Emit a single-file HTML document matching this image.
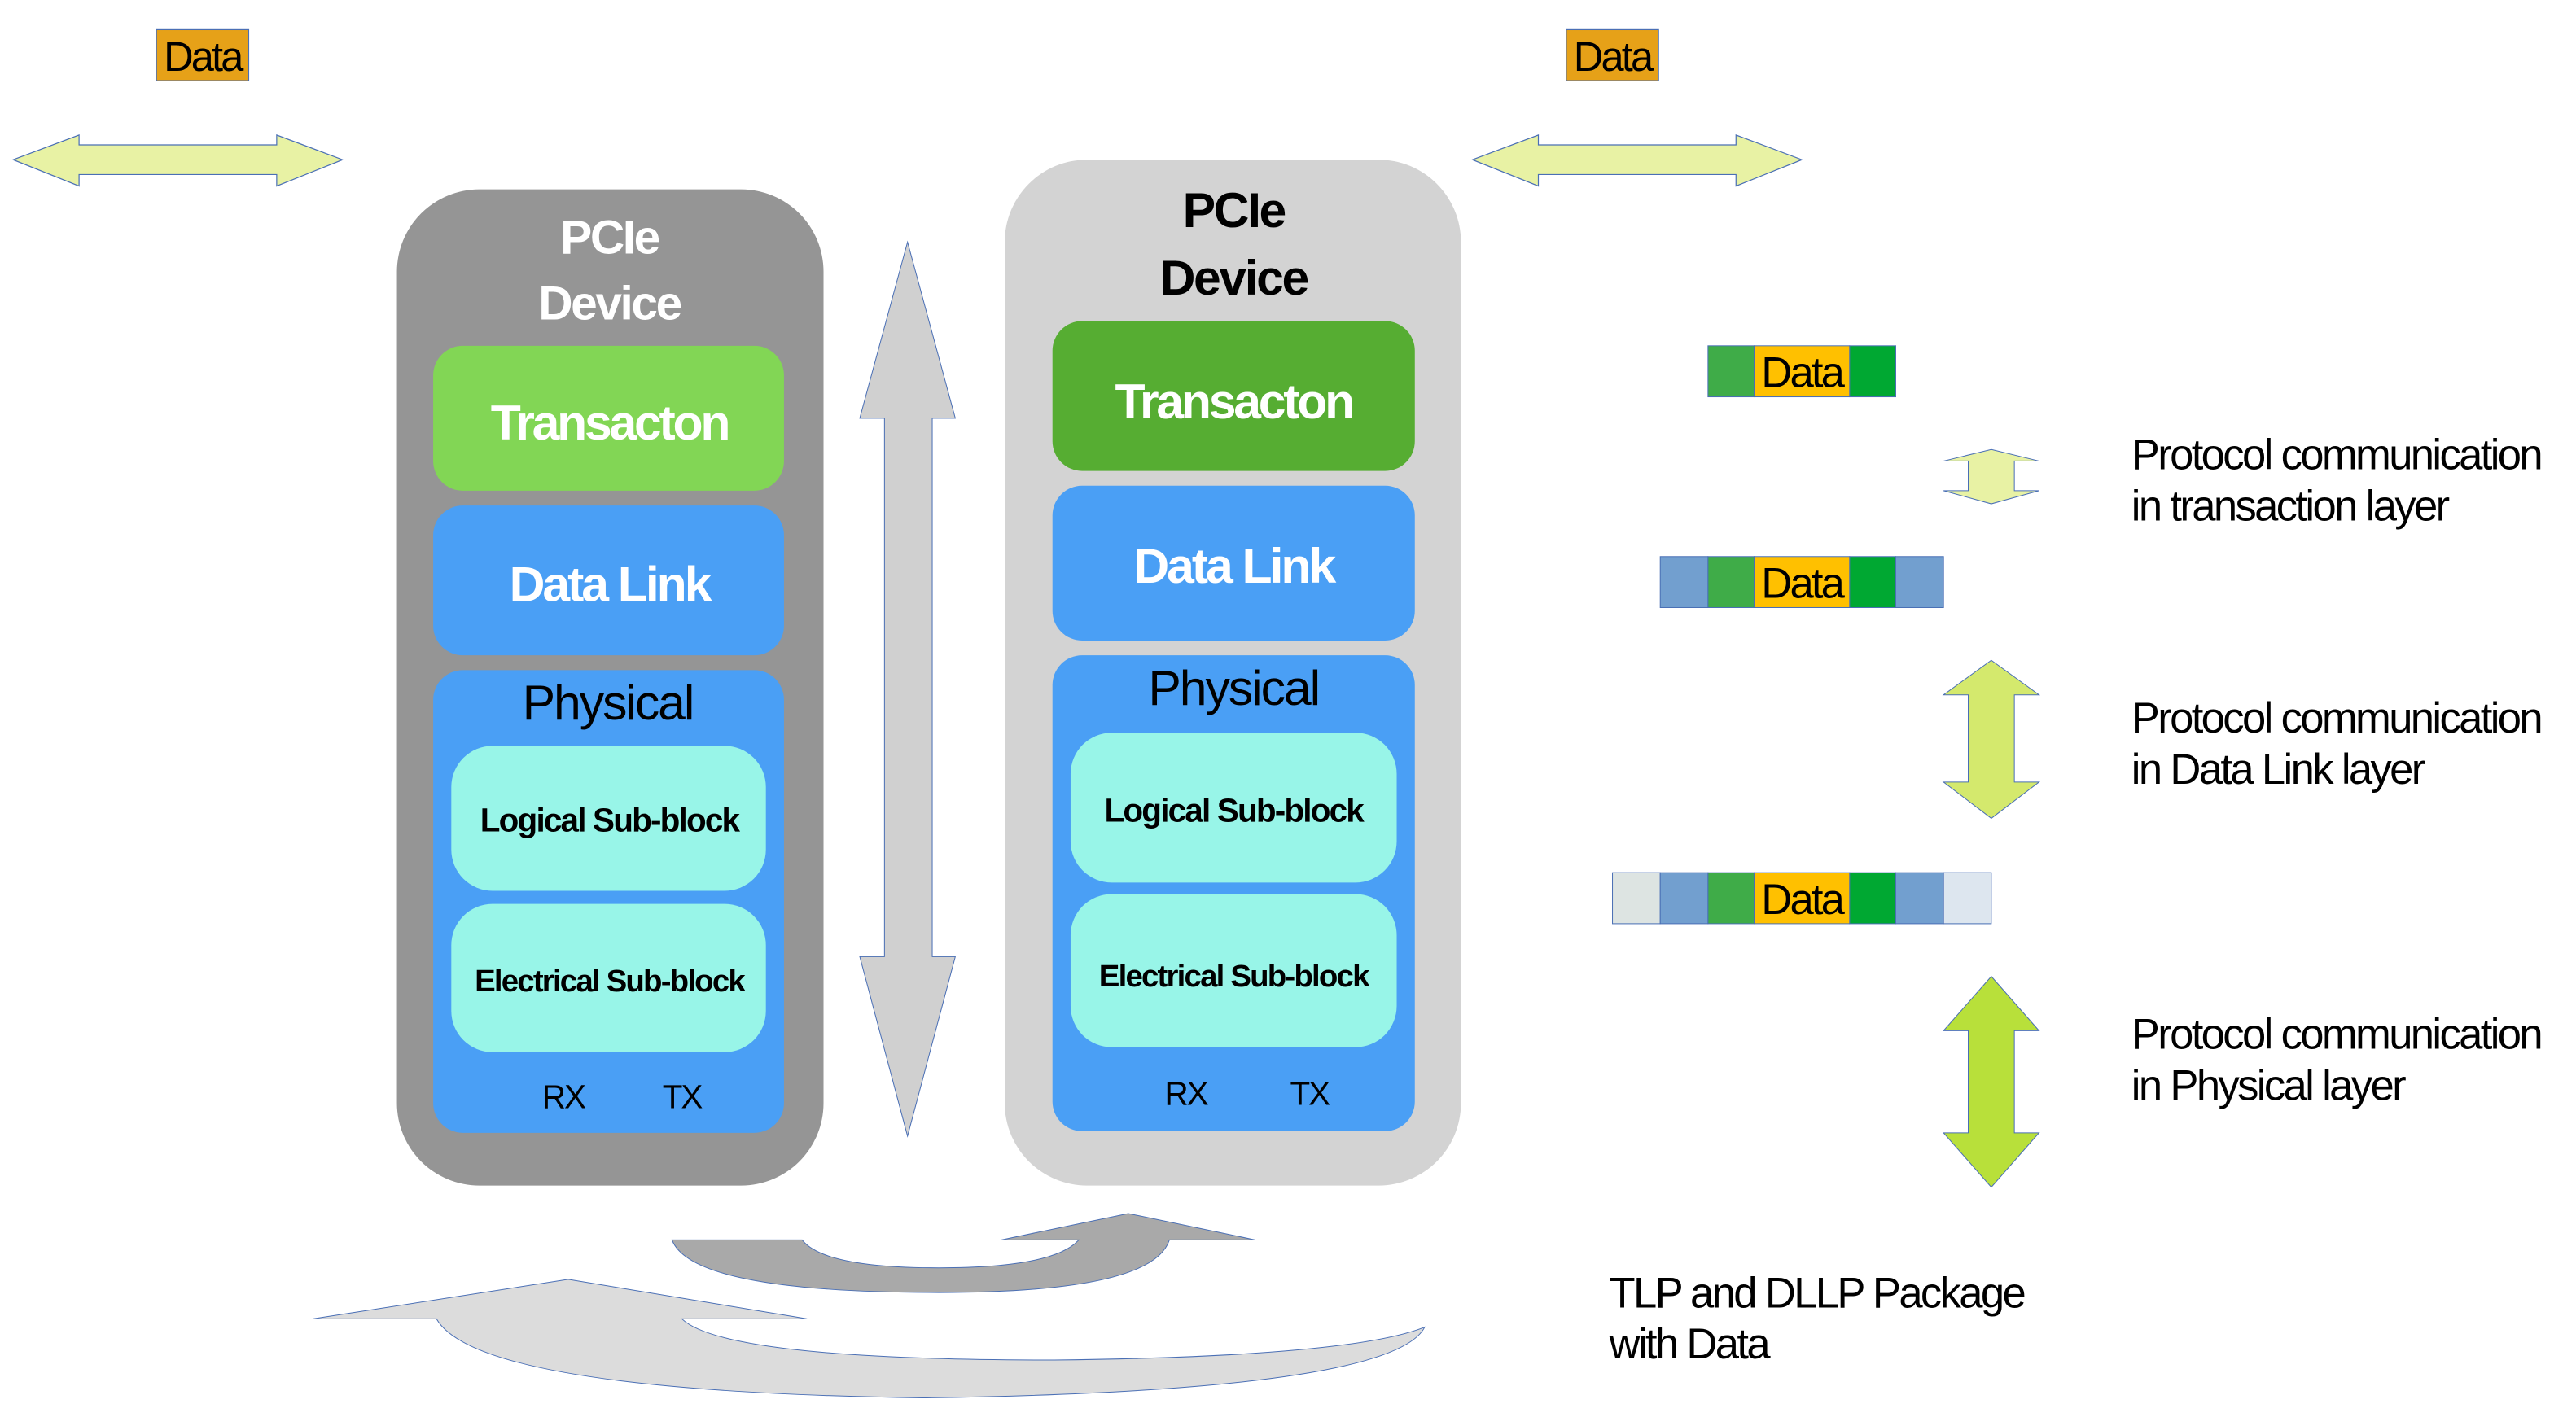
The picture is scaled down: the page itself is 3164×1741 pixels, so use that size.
<!DOCTYPE html>
<html><head><meta charset="utf-8"><style>
html,body{margin:0;padding:0;background:#fff;}
svg{display:block;}
text{font-family:"Liberation Sans",sans-serif;}
</style></head><body>
<svg width="3164" height="1741" viewBox="0 0 1564 860.6" preserveAspectRatio="none" xmlns="http://www.w3.org/2000/svg">
<rect x="95" y="18" width="56" height="31" fill="#e6a118" stroke="#4a6fb5" stroke-width="0.6"/>
<text x="123" y="43" font-size="25" text-anchor="middle" letter-spacing="-1.4">Data</text>
<rect x="951" y="18" width="56" height="31" fill="#e6a118" stroke="#4a6fb5" stroke-width="0.6"/>
<text x="979" y="43" font-size="25" text-anchor="middle" letter-spacing="-1.4">Data</text>
<path d="M8 97 L48 82 L48 88 L168 88 L168 82 L208 97 L168 113 L168 106 L48 106 L48 113 Z" fill="#e8f2a4" stroke="#4a6fb5" stroke-width="0.6"/>
<path d="M894 97 L934 82 L934 88 L1054 88 L1054 82 L1094 97 L1054 113 L1054 106 L934 106 L934 113 Z" fill="#e8f2a4" stroke="#4a6fb5" stroke-width="0.6"/>
<rect x="241" y="115" width="259" height="605" rx="50" fill="#959595"/>
<text x="370" y="154" font-size="29" font-weight="bold" fill="#fff" text-anchor="middle" letter-spacing="-1.2">PCIe</text>
<text x="370" y="194" font-size="29" font-weight="bold" fill="#fff" text-anchor="middle" letter-spacing="-1.2">Device</text>
<rect x="263" y="210" width="213" height="88" rx="18" fill="#82d655"/>
<text x="370" y="267" font-size="30" font-weight="bold" fill="#fff" text-anchor="middle" letter-spacing="-1.6">Transacton</text>
<rect x="263" y="307" width="213" height="91" rx="18" fill="#4a9ff5"/>
<text x="370" y="365" font-size="30" font-weight="bold" fill="#fff" text-anchor="middle" letter-spacing="-1.5">Data Link</text>
<rect x="263" y="407" width="213" height="281" rx="18" fill="#4a9ff5"/>
<text x="369" y="437" font-size="30" text-anchor="middle" letter-spacing="-1">Physical</text>
<rect x="274" y="453" width="191" height="88" rx="25" fill="#98f5e8"/>
<text x="370" y="505" font-size="20" font-weight="bold" text-anchor="middle" letter-spacing="-0.9">Logical Sub-block</text>
<rect x="274" y="549" width="191" height="90" rx="25" fill="#98f5e8"/>
<text x="370" y="602" font-size="19" font-weight="bold" text-anchor="middle" letter-spacing="-0.9">Electrical Sub-block</text>
<text x="342" y="673" font-size="20" text-anchor="middle" letter-spacing="-1">RX</text>
<text x="414" y="673" font-size="20" text-anchor="middle" letter-spacing="-1">TX</text>
<rect x="610" y="97" width="277" height="623" rx="50" fill="#d3d3d3"/>
<text x="749" y="138" font-size="30" font-weight="bold" text-anchor="middle" letter-spacing="-1.2">PCIe</text>
<text x="749" y="179" font-size="30" font-weight="bold" text-anchor="middle" letter-spacing="-1.2">Device</text>
<rect x="639" y="195" width="220" height="91" rx="18" fill="#56ad32"/>
<text x="749" y="254" font-size="30" font-weight="bold" fill="#fff" text-anchor="middle" letter-spacing="-1.6">Transacton</text>
<rect x="639" y="295" width="220" height="94" rx="18" fill="#4a9ff5"/>
<text x="749" y="354" font-size="30" font-weight="bold" fill="#fff" text-anchor="middle" letter-spacing="-1.5">Data Link</text>
<rect x="639" y="398" width="220" height="289" rx="18" fill="#4a9ff5"/>
<text x="749" y="428" font-size="30" text-anchor="middle" letter-spacing="-1">Physical</text>
<rect x="650" y="445" width="198" height="91" rx="25" fill="#98f5e8"/>
<text x="749" y="499" font-size="20" font-weight="bold" text-anchor="middle" letter-spacing="-0.9">Logical Sub-block</text>
<rect x="650" y="543" width="198" height="93" rx="25" fill="#98f5e8"/>
<text x="749" y="599" font-size="19" font-weight="bold" text-anchor="middle" letter-spacing="-0.9">Electrical Sub-block</text>
<text x="720" y="671" font-size="20" text-anchor="middle" letter-spacing="-1">RX</text>
<text x="795" y="671" font-size="20" text-anchor="middle" letter-spacing="-1">TX</text>
<path d="M551 147 L580 254 L566 254 L566 581 L580 581 L551 690 L522 581 L537 581 L537 254 L522 254 Z" fill="#d0d0d0" stroke="#4a6fb5" stroke-width="0.5"/>
<path d="M408 753 L487 753 Q 500 770 570 770 Q 640 770 655 753 L608 753 L685 737 L762 753 L710 753 Q 700 785 570 785 Q 420 785 408 753 Z" fill="#a9a9a9" stroke="#4a6fb5" stroke-width="0.5"/>
<path d="M190 801 L345 777 L490 801 L414 801 Q 440 826 640 826 Q 820 824 865 806 Q 845 845 560 849 Q 290 845 265 801 Z" fill="#dcdcdc" stroke="#4a6fb5" stroke-width="0.5"/>
<g stroke="#4a6fb5" stroke-width="0.5">
<rect x="1037" y="210" width="28" height="31" fill="#3fac48"/>
<rect x="1065" y="210" width="58" height="31" fill="#ffc000"/>
<rect x="1123" y="210" width="28" height="31" fill="#00a832"/>
<rect x="1008" y="338" width="29" height="31" fill="#729fcf"/>
<rect x="1037" y="338" width="28" height="31" fill="#3fac48"/>
<rect x="1065" y="338" width="58" height="31" fill="#ffc000"/>
<rect x="1123" y="338" width="28" height="31" fill="#00a832"/>
<rect x="1151" y="338" width="29" height="31" fill="#729fcf"/>
<rect x="979" y="530" width="29" height="31" fill="#dde4e2"/>
<rect x="1008" y="530" width="29" height="31" fill="#729fcf"/>
<rect x="1037" y="530" width="28" height="31" fill="#3fac48"/>
<rect x="1065" y="530" width="58" height="31" fill="#ffc000"/>
<rect x="1123" y="530" width="28" height="31" fill="#00a832"/>
<rect x="1151" y="530" width="29" height="31" fill="#729fcf"/>
<rect x="1180" y="530" width="29" height="31" fill="#dde6ef"/>
</g>
<text x="1094" y="235" font-size="26" text-anchor="middle" letter-spacing="-1.4">Data</text>
<text x="1094" y="363" font-size="26" text-anchor="middle" letter-spacing="-1.4">Data</text>
<text x="1094" y="555" font-size="26" text-anchor="middle" letter-spacing="-1.4">Data</text>
<path d="M1209 273 L1238 280 L1223 280 L1223 298 L1238 298 L1209 306 L1180 298 L1195 298 L1195 280 L1180 280 Z" fill="#e8f2a4" stroke="#4a6fb5" stroke-width="0.5"/>
<path d="M1209 401 L1238 422 L1223 422 L1223 475 L1238 475 L1209 497 L1180 475 L1195 475 L1195 422 L1180 422 Z" fill="#d4e96d" stroke="#4a6fb5" stroke-width="0.5"/>
<path d="M1209 593 L1238 626 L1223 626 L1223 688 L1238 688 L1209 721 L1180 688 L1195 688 L1195 626 L1180 626 Z" fill="#b8e03a" stroke="#4a6fb5" stroke-width="0.5"/>
<g font-size="26" letter-spacing="-1.3">
<text x="1294" y="285">Protocol communication</text>
<text x="1294" y="316">in transaction layer</text>
<text x="1294" y="445">Protocol communication</text>
<text x="1294" y="476">in Data Link layer</text>
<text x="1294" y="637">Protocol communication</text>
<text x="1294" y="668">in Physical layer</text>
<text x="977" y="794">TLP and DLLP Package</text>
<text x="977" y="825">with Data</text>
</g>
</svg>
</body></html>
